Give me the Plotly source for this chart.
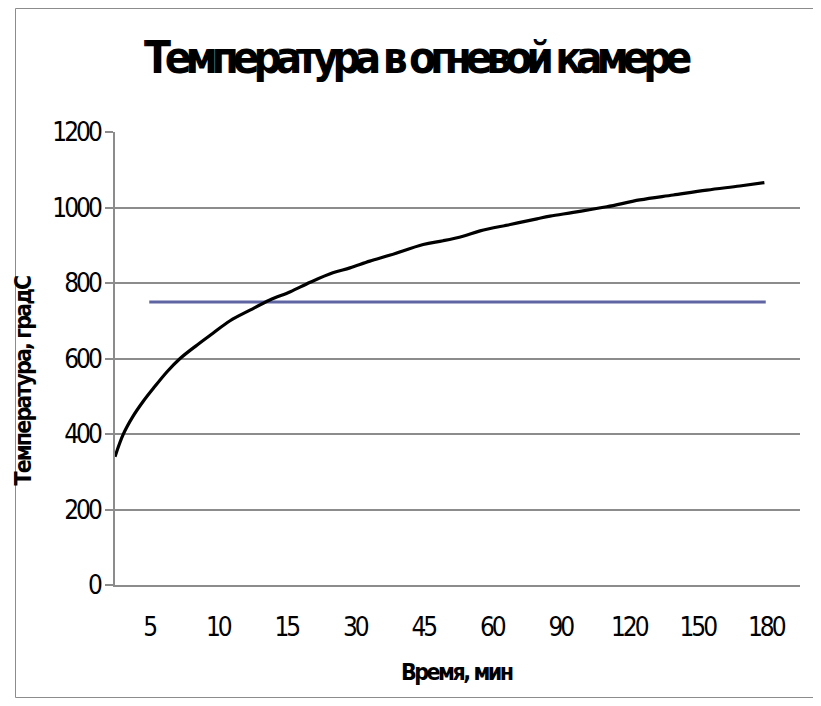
import plotly.graph_objects as go

# Category labels (minutes)
categories = ["5", "10", "15", "30", "45", "60", "90", "120", "150", "180"]
# Constant reference line (°C) on each category
limit_values = [750, 750, 750, 750, 750, 750, 750, 750, 750, 750]

# Fire-chamber temperature curve: position along category axis and temperature
curve_pos = [-0.50, -0.38, -0.24, -0.09, 0.06, 0.26, 0.45, 0.70, 0.93, 1.18,
             1.47, 1.76, 2.06, 2.35, 2.68, 2.93, 3.22, 3.52, 4.00, 4.29,
             4.58, 4.83, 5.27, 5.66, 5.85, 6.19, 6.68, 7.16, 7.65, 8.14,
             8.62, 8.98]
curve_temp = [340, 399, 446, 486, 521, 565, 600, 636, 667, 700,
              728, 755, 777, 802, 827, 840, 858, 874, 902, 912,
              924, 938, 955, 970, 977, 987, 1002, 1020, 1033, 1046,
              1057, 1066]

y_ticks = [0, 200, 400, 600, 800, 1000, 1200]
y_tick_labels = ["0", "200", "400", "600", "800", "1000", "1200"]

FONT = "DejaVu Sans Condensed, DejaVu Sans, sans-serif"


def tight(s, ls):
    return "<span style='letter-spacing:%spx'>%s</span>" % (ls, s)


fig = go.Figure()
fig.add_trace(go.Scatter(
    x=list(range(len(categories))), y=limit_values, mode="lines",
    line=dict(color="#5F64A2", width=3), showlegend=False, hoverinfo="skip"))
fig.add_trace(go.Scatter(
    x=curve_pos, y=curve_temp, mode="lines", line_shape="spline",
    line=dict(color="#000000", width=3.2), showlegend=False, hoverinfo="skip"))

# page has an 8px body margin; plot area in page coords: x 115..800, y 132..585
W, H = 813, 690
L, R, T, B = 107, 21, 124, 113
PX0, PX1, PY0, PY1 = 115, 800, 132, 585


def px(x):
    return (x - PX0) / (PX1 - PX0)


def py(y):
    return (PY1 - y) / (PY1 - PY0)


fig.update_layout(
    width=W, height=H,
    margin=dict(l=L, r=R, t=T, b=B, pad=0),
    paper_bgcolor="white", plot_bgcolor="white",
    font=dict(family=FONT, color="#000000", size=26),
    xaxis=dict(
        range=[-0.5, len(categories) - 0.5],
        tickmode="array", tickvals=list(range(len(categories))),
        ticktext=[tight(c, -3) for c in categories],
        showgrid=False, zeroline=False, showline=True, linecolor="#8C8C8C", linewidth=2,
        ticks="", tickfont=dict(family=FONT, size=26, color="#000"),
        ticklabelstandoff=18, fixedrange=True,
    ),
    yaxis=dict(
        range=[0, 1200], tickmode="array", tickvals=y_ticks,
        ticktext=[tight(t, -3) for t in y_tick_labels],
        showgrid=True, gridcolor="#8C8C8C", gridwidth=2,
        zeroline=False, showline=True, linecolor="#8C8C8C", linewidth=2,
        ticks="outside", ticklen=8, tickcolor="#8C8C8C", tickwidth=2,
        tickfont=dict(family=FONT, size=26, color="#000"),
        ticklabelstandoff=0, fixedrange=True,
    ),
    annotations=[
        dict(text=tight("<b>Температура в огневой камере</b>", -6.2), xref="paper", yref="paper",
             x=px(416.5), y=py(57), xanchor="center", yanchor="middle", showarrow=False,
             font=dict(family=FONT, size=44, color="#000")),
        dict(text=tight("<b>Время, мин</b>", -2.5), xref="paper", yref="paper",
             x=px(457), y=py(672), xanchor="center", yanchor="middle", showarrow=False,
             font=dict(family=FONT, size=23, color="#000")),
        dict(text=tight("<b>Температура, градС</b>", -1.9), xref="paper", yref="paper",
             x=px(22.5), y=py(381), xanchor="center", yanchor="middle", showarrow=False,
             textangle=-90, font=dict(family=FONT, size=23, color="#000")),
    ],
    shapes=[
        dict(type="rect", xref="paper", yref="paper",
             x0=px(15.5), x1=px(820.5), y0=py(697.5), y1=py(8.5),
             line=dict(color="#8C8C8C", width=1), fillcolor="rgba(0,0,0,0)", layer="below"),
    ],
)

fig.write_html("out.html")
